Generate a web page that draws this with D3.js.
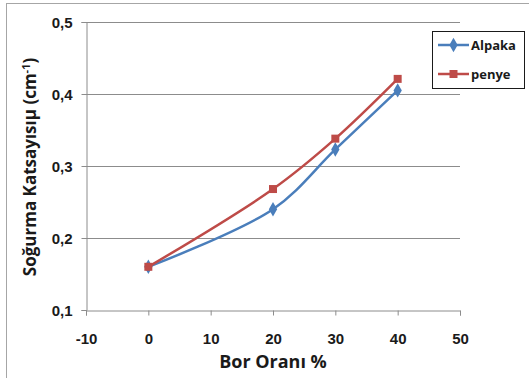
<!DOCTYPE html>
<html>
<head>
<meta charset="utf-8">
<script src="https://cdn.jsdelivr.net/npm/d3@7"></script>
<style>
  body { margin: 0; background: #fff; }
  svg { display: block; font-family: "Open Sans", "Liberation Sans", sans-serif; }
</style>
</head>
<body>
<div id="chart"></div>
<script>
// data
const borOrani = [0, 20, 30, 40];
const alpaka = [0.16, 0.24, 0.323, 0.405];
const penye = [0.16, 0.268, 0.338, 0.421];
const xTicks = [-10, 0, 10, 20, 30, 40, 50];
const yTicks = [0.1, 0.2, 0.3, 0.4, 0.5];
const seriesNames = ['Alpaka', 'penye'];
const seriesColors = ['#4A7EBB', '#BE4B48'];

const W = 529, H = 378;
const svg = d3.select('#chart').append('svg')
  .attr('width', W)
  .attr('height', H);

// outer frame
svg.append('rect')
  .attr('x', 6.5).attr('y', 3.5)
  .attr('width', W + 10).attr('height', H + 10)
  .attr('fill', 'none')
  .attr('stroke', '#a6a6a6');

// scales
const x = d3.scaleLinear().domain([-10, 50]).range([86, 460]);
const y = d3.scaleLinear().domain([0.1, 0.5]).range([310, 22]);

// gridlines
svg.append('g')
  .selectAll('line')
  .data(yTicks.filter(d => d > 0.1))
  .join('line')
  .attr('x1', x(-10)).attr('x2', x(50))
  .attr('y1', d => Math.round(y(d)) + 0.5)
  .attr('y2', d => Math.round(y(d)) + 0.5)
  .attr('stroke', '#8c8c8c')
  .attr('stroke-width', 1);

// axes
const yAxis = d3.axisLeft(y)
  .tickValues(yTicks)
  .tickSize(5)
  .tickPadding(9)
  .tickFormat(d => d3.format('.1f')(d).replace('.', ','));

const xAxis = d3.axisBottom(x)
  .tickValues(xTicks)
  .tickSize(5)
  .tickPadding(18)
  .tickFormat(d => String(d)); // plain hyphen for negatives

const gy = svg.append('g')
  .attr('transform', `translate(${Math.round(x(-10)) + 0.5},0)`)
  .call(yAxis);

const gx = svg.append('g')
  .attr('transform', `translate(0,${Math.round(y(0.1)) + 0.5})`)
  .call(xAxis);

[gx, gy].forEach(g => {
  g.select('.domain').attr('stroke', '#8c8c8c');
  g.selectAll('.tick line').attr('stroke', '#8c8c8c');
  g.selectAll('.tick text')
    .attr('fill', '#1a1a1a')
    .style('font-size', '15px')
    .style('font-weight', '600');
});
gy.selectAll('.tick text').attr('dy', '0.35em');

// axis titles
svg.append('text')
  .attr('x', 273)
  .attr('y', 368)
  .attr('text-anchor', 'middle')
  .style('font-size', '18px')
  .style('font-weight', 'bold')
  .attr('fill', '#1a1a1a')
  .text('Bor Oranı %');

const yt = svg.append('text')
  .attr('transform', 'translate(36,167) rotate(-90)')
  .attr('text-anchor', 'middle')
  .style('font-size', '17px')
  .style('font-weight', 'bold')
  .attr('fill', '#1a1a1a');
yt.append('tspan').text('Soğurma Katsayısıµ (cm');
yt.append('tspan').attr('dy', '-6').style('font-size', '11px').text('-1');
yt.append('tspan').attr('dy', '6').text(')');

// series
const series = [alpaka, penye];
const line = d3.line()
  .x((d, i) => x(borOrani[i]))
  .y(d => y(d))
  .curve(d3.curveCatmullRom.alpha(0.5));

series.forEach((vals, si) => {
  svg.append('path')
    .datum(vals)
    .attr('d', line)
    .attr('fill', 'none')
    .attr('stroke', seriesColors[si])
    .attr('stroke-width', 2.5);
});

const diamond = d3.symbol().type(d3.symbolDiamond).size(60);
const square = d3.symbol().type(d3.symbolSquare).size(64);
const symbols = [diamond, square];

// markers, blue first so red sits on top
series.forEach((vals, si) => {
  svg.append('g')
    .selectAll('path')
    .data(vals)
    .join('path')
    .attr('d', symbols[si])
    .attr('transform', (d, i) => `translate(${x(borOrani[i])},${y(d)})`)
    .attr('fill', seriesColors[si]);
});

// legend
const legend = svg.append('g');
legend.append('rect')
  .attr('x', 432.5).attr('y', 31.5)
  .attr('width', 92).attr('height', 57)
  .attr('fill', '#fff')
  .attr('stroke', '#1a1a1a');

seriesNames.forEach((name, i) => {
  const ly = 45 + i * 29;
  legend.append('line')
    .attr('x1', 438).attr('x2', 469)
    .attr('y1', ly).attr('y2', ly)
    .attr('stroke', seriesColors[i])
    .attr('stroke-width', 2.5);
  legend.append('path')
    .attr('d', symbols[i])
    .attr('transform', `translate(453.5,${ly})`)
    .attr('fill', seriesColors[i]);
  legend.append('text')
    .attr('x', 471)
    .attr('y', ly)
    .attr('dy', '0.35em')
    .style('font-size', '13px')
    .style('font-weight', 'bold')
    .attr('fill', '#1a1a1a')
    .text(name);
});
</script>
</body>
</html>
